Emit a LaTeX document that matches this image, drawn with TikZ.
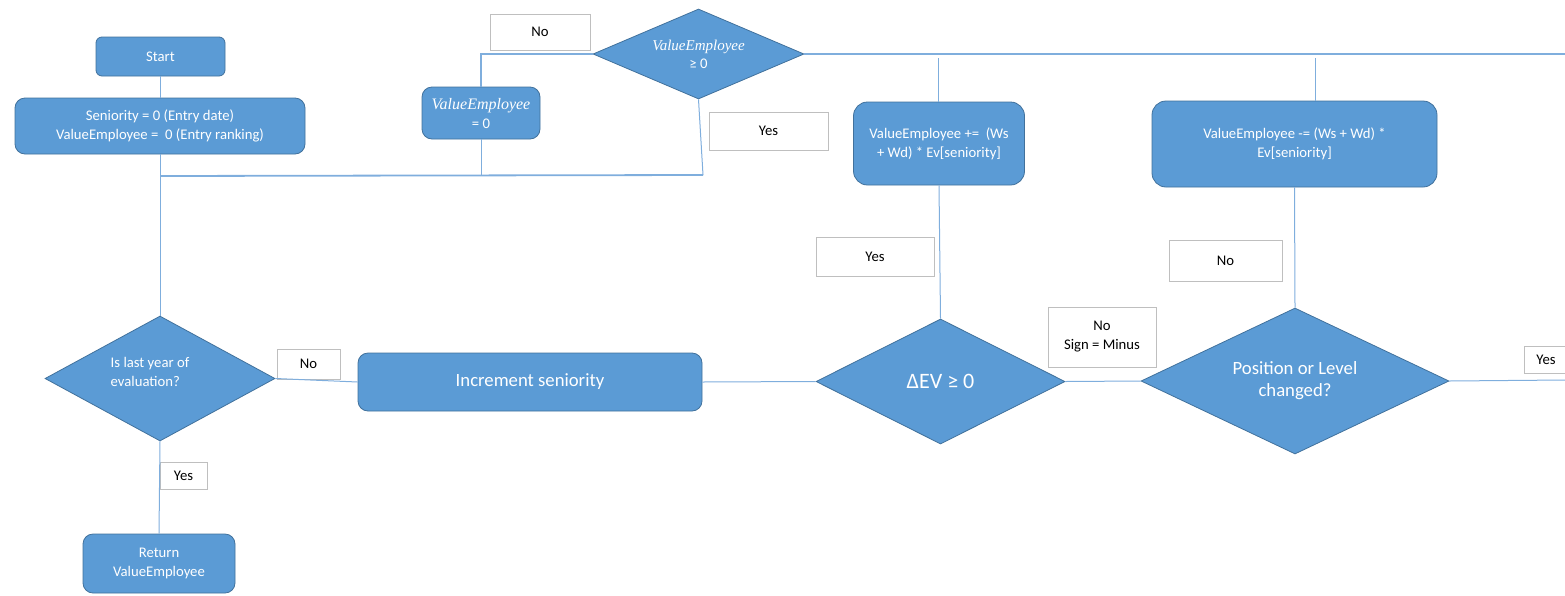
\documentclass[tikz,border=0pt]{standalone}
\usepackage{fontspec}
\setmainfont{Carlito}
\newfontfamily\varfont{Liberation Serif}
\usetikzlibrary{shapes.geometric}
\definecolor{boxfill}{HTML}{5B9BD5}
\definecolor{boxedge}{HTML}{41719C}
\definecolor{wirecol}{HTML}{7FAEDD}
\definecolor{tagedge}{HTML}{BFBFBF}
\newcommand{\varname}[1]{{\varfont\itshape #1}}
\tikzset{
  proc/.style={rectangle, rounded corners=#1, fill=boxfill, draw=boxedge,
    line width=0.8pt, text=white, align=center, inner sep=0pt,
    font=\fontsize{14.7}{19}\selectfont},
  proc/.default=10pt,
  decision/.style={diamond, fill=boxfill, draw=boxedge, line width=0.8pt,
    text=white, align=center, inner sep=0pt,
    font=\fontsize{14.7}{19}\selectfont},
  dtext/.style={text=white, align=left, inner sep=0pt,
    font=\fontsize{14.7}{19}\selectfont},
  tag/.style={rectangle, draw=tagedge, fill=white, line width=0.8pt,
    text=black, align=center, inner sep=0pt,
    font=\fontsize{14.7}{19}\selectfont},
  wire/.style={draw=wirecol, line width=1pt},
  wirethick/.style={draw=wirecol, line width=1.8pt},
}
\begin{document}
\begin{tikzpicture}[x=1pt,y=-1pt]
\useasboundingbox (0,0) rectangle (1565,595);

% ---- process boxes ----
\node[proc=6pt, minimum width=129pt, minimum height=39pt] (start) at (160.5,56.5) {Start};
\node[proc, minimum width=290pt, minimum height=56pt] (init) at (160,126)
  {Seniority = 0 (Entry date)\\ValueEmployee =\ \ 0 (Entry ranking)};
\node[proc, minimum width=118pt, minimum height=52pt] (ve0) at (481,113)
  {{\fontsize{16}{19}\selectfont\varname{ValueEmployee}}\\= 0};
\node[proc=14pt, minimum width=171pt, minimum height=83pt] (plus) at (939,143.5)
  {ValueEmployee +=\ \ (Ws\\+ Wd) * Ev[seniority]};
\node[proc=14pt, minimum width=285pt, minimum height=86pt] (minus) at (1294.5,144)
  {ValueEmployee -= (Ws + Wd) *\\Ev[seniority]};
\node[proc, minimum width=344pt, minimum height=58pt, font=\fontsize{18.7}{23}\selectfont] (inc) at (530,382)
  {Increment seniority};
\node[proc, minimum width=152pt, minimum height=59pt] (ret) at (159,563.5)
  {Return\\ValueEmployee};

% ---- decisions ----
\node[decision, minimum width=211pt, minimum height=90pt, shape aspect=2.34,
  font=\fontsize{14.7}{18}\selectfont] (topd) at (698.5,54)
  {{\fontsize{15}{18}\selectfont\varname{ValueEmployee}}\\≥ 0};
\node[decision, minimum width=230pt, minimum height=125pt, shape aspect=1.84] (last) at (160,378.5) {};
\node[dtext] (lasttext) at (150,371.5) {Is last year of\\evaluation?};
\node[decision, minimum width=249pt, minimum height=125pt, shape aspect=2,
  font=\fontsize{22}{26}\selectfont] (dev) at (940.5,381.5) {ΔEV ≥ 0};
\node[decision, minimum width=308pt, minimum height=146pt, shape aspect=2.1,
  font=\fontsize{18.7}{22}\selectfont] (pl) at (1295,381) {Position or Level\\changed?};

% ---- branch labels ----
\node[tag, minimum width=100pt, minimum height=36pt] (tagnotop) at (540,32) {No};
\node[tag, minimum width=119pt, minimum height=38pt] (tagyestop) at (768.5,131) {Yes};
\node[tag, minimum width=118pt, minimum height=39pt] (tagyesdev) at (875,256.5) {Yes};
\node[tag, minimum width=113pt, minimum height=41pt] (tagnopl) at (1225.5,260.5) {No};
\node[tag, minimum width=108pt, minimum height=60pt] (tagnodev) at (1102,337) {No\\Sign = Minus};
\node[tag, minimum width=44pt, minimum height=27pt] (tagyespl) at (1546,359.5) {Yes};
\node[tag, minimum width=63pt, minimum height=30pt] (tagnolast) at (308.5,364) {No};
\node[tag, minimum width=47pt, minimum height=27pt] (tagyeslast) at (183.5,475.5) {Yes};

% ---- connectors ----
\coordinate (jl) at (160,176);
\coordinate (jr) at (703,175);
\coordinate (topend) at (1565,54);
\coordinate (tp) at (938,58);
\coordinate (tm) at (1315,58);
\coordinate (midend) at (1565,380);

\draw[wire] (start.south) -- (start.south |- init.north);
\draw[wire] (init.south) -- (last.north);
\draw[wirethick] (jl) -- (jr);
\draw[wire] (topd.south) -- (jr);
\draw[wire] (ve0.south) -- (ve0.south |- jl);
\draw[wirethick] (ve0.north) |- (topd.west);
\draw[wirethick] (topd.east) -- (topend);
\draw[wire] (tp) -- (tp |- plus.north);
\draw[wire] (tm) -- (tm |- minus.north);
\draw[wire] (plus.south) -- (dev.north);
\draw[wire] (minus.south) -- (pl.north);
\draw[wire] (dev.east) -- (pl.west);
\draw[wire] (pl.east) -- (midend);
\draw[wire] (dev.west) -- (inc.east);
\draw[wire] (inc.west) -- (last.east);
\draw[wire] (last.south) -- (ret.north);
\end{tikzpicture}
\end{document}
